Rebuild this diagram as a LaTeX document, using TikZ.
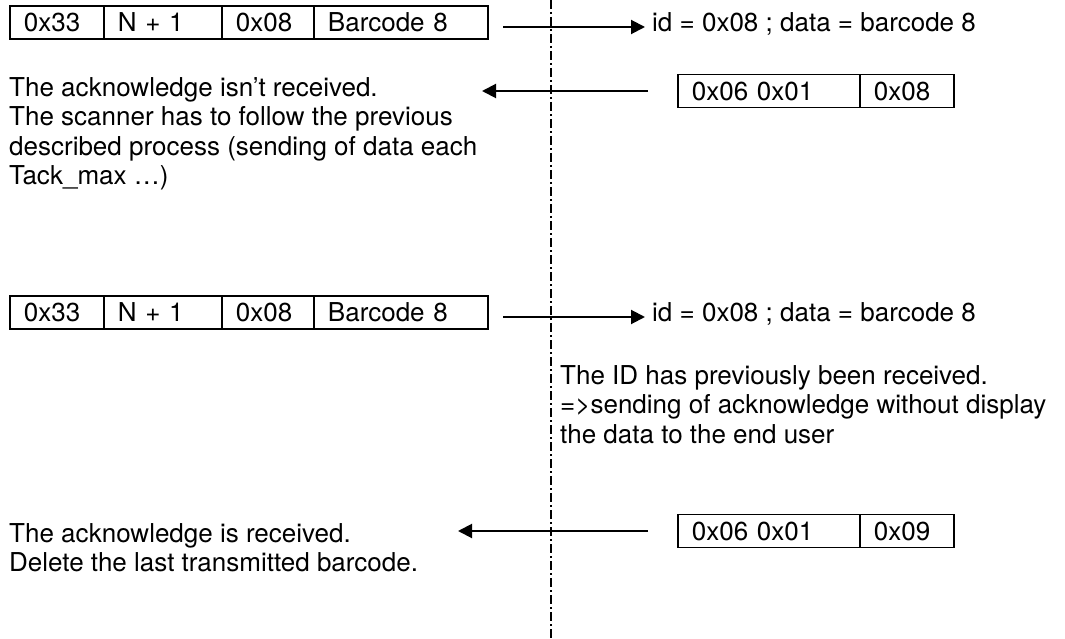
\documentclass[tikz,border=0pt]{standalone}
\usepackage{fontspec}
\setmainfont{TeX Gyre Heros}
\usetikzlibrary{arrows.meta}

\begin{document}
\begin{tikzpicture}[
    x=1pt, y=-1pt,
    every node/.style={font=\fontsize{26}{29.5}\selectfont, inner sep=0pt},
    cell/.style={draw, line width=1.9pt, minimum height=33pt, inner xsep=14pt, text width=#1, align=left, anchor=west},
    msg/.style={line width=2pt, -{Triangle[length=14pt, width=14pt]}},
    timeline/.style={line width=1.5pt, dash pattern=on 9pt off 3pt on 2pt off 3pt}
]
\useasboundingbox (0,0) rectangle (1065,639);
\coordinate (lt) at (551,0);
\coordinate (lb) at (551,639);
\draw [timeline] (lt)--(lb);
% first frame
\node [cell=66pt]  (cmd1)  at (  9,22.5) {0x33};
\node [cell=90pt]  (len1)  at (103,22.5) {N + 1};
\node [cell=64pt]  (id1)   at (221,22.5) {0x08};
\node [cell=146pt] (code1) at (313,22.5) {Barcode 8};
\coordinate (tx1) at (503,27);
\coordinate (rx1) at (645,27);
\node [anchor=west] (got1) at (652,24) {id = 0x08 ; data = barcode 8};
\draw [msg] (tx1)--(rx1);
% lost acknowledge
\node [cell=154pt] (ack1)   at (677,91) {0x06 0x01};
\node [cell=66pt]  (ackid1) at (859,91) {0x08};
\coordinate (rx2) at (648,91);
\coordinate (tx2) at (482,91);
\draw [msg] (rx2)--(tx2);
\node [anchor=north west, align=left] (lost) at (9,77)
    {The acknowledge isn’t received.\\
     The scanner has to follow the previous\\
     described process (sending of data each\\
     Tack\_max …)};
% repeated frame
\node [cell=66pt]  (cmd2)  at (  9,312.5) {0x33};
\node [cell=90pt]  (len2)  at (103,312.5) {N + 1};
\node [cell=64pt]  (id2)   at (221,312.5) {0x08};
\node [cell=146pt] (code2) at (313,312.5) {Barcode 8};
\coordinate (tx3) at (503,317);
\coordinate (rx3) at (645,317);
\node [anchor=west] (got2) at (652,314) {id = 0x08 ; data = barcode 8};
\draw [msg] (tx3)--(rx3);
\node [anchor=north west, align=left] (known) at (560,365)
    {The ID has previously been received.\\
     =>sending of acknowledge without display\\
     the data to the end user};
% acknowledge received
\node [cell=154pt] (ack2)   at (677,531) {0x06 0x01};
\node [cell=66pt]  (ackid2) at (859,531) {0x09};
\coordinate (rx4) at (648,531);
\coordinate (tx4) at (458,531);
\draw [msg] (rx4)--(tx4);
\node [anchor=north west, align=left] (done) at (9,523)
    {The acknowledge is received.\\
     Delete the last transmitted barcode.};
\end{tikzpicture}
\end{document}
